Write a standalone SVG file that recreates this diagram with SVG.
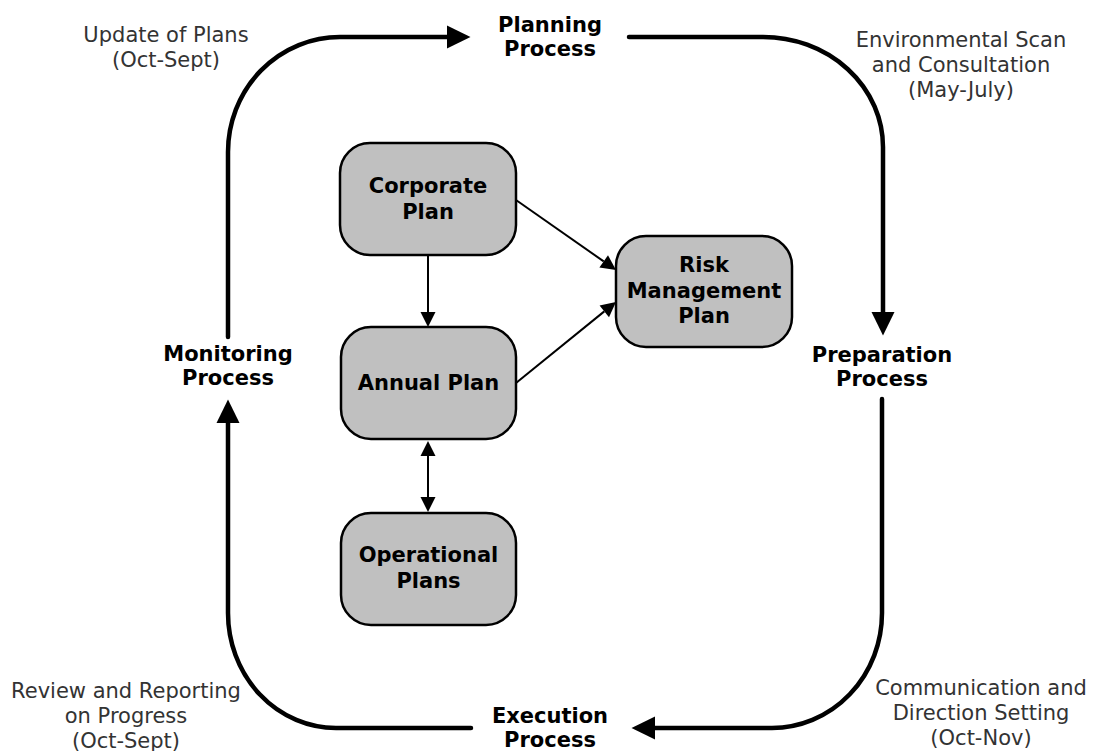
<svg xmlns="http://www.w3.org/2000/svg" width="1095" height="751" viewBox="0 0 1095 751">
  <style>
    .box { fill: #c0c0c0; stroke: #000; stroke-width: 2.5; }
    .boxtxt { font-family: "DejaVu Sans", Verdana, sans-serif; font-weight: bold; font-size: 21px; fill: #000; text-anchor: middle; }
    .stage { font-family: "DejaVu Sans", Verdana, sans-serif; font-weight: bold; font-size: 21px; fill: #000; text-anchor: middle; }
    .note { font-family: "DejaVu Sans", Verdana, sans-serif; font-size: 21px; fill: #333; text-anchor: middle; }
    .cycle { fill: none; stroke: #000; stroke-width: 4.5; stroke-linecap: round; marker-end: url(#bigHead); }
    .link { fill: none; stroke: #000; stroke-width: 2; marker-end: url(#smallHead); }
  </style>
  <defs>
    <marker id="bigHead" markerUnits="userSpaceOnUse" markerWidth="24" markerHeight="24" viewBox="0 -12 24 24" refX="0" refY="0" orient="auto" overflow="visible">
      <path d="M0,-11.5 L23.5,0 L0,11.5 z" fill="#000"/>
    </marker>
    <marker id="smallHead" markerUnits="userSpaceOnUse" markerWidth="16" markerHeight="16" viewBox="0 -8 16 16" refX="0" refY="0" orient="auto-start-reverse" overflow="visible">
      <path d="M0,-7.5 L15,0 L0,7.5 z" fill="#000"/>
    </marker>
  </defs>

  <rect width="1095" height="751" fill="#fff"/>

  <!-- planning cycle connectors and links between plans -->
  <g id="connectors">
    <path class="cycle" d="M228,337 V152 A112,115 0 0 1 340,37 H447"/>
    <path class="cycle" d="M629,37 H763 A120,110 0 0 1 883,147 V312"/>
    <path class="cycle" d="M882,399 V613 A110,115 0 0 1 772,728 H655"/>
    <path class="cycle" d="M471,728 H336 A108,115 0 0 1 228,613 V423"/>

    <path class="link" d="M428,255 V312"/>
    <path class="link" d="M516,200 L603.7,261.4"/>
    <path class="link" d="M516,383 L604.3,311.4"/>
    <path class="link" d="M428,456 V497" marker-start="url(#smallHead)"/>
  </g>

  <!-- cycle stages -->
  <g id="planning-process">
    <text class="stage" x="550" y="32">Planning</text>
    <text class="stage" x="550" y="56">Process</text>
  </g>
  <g id="preparation-process">
    <text class="stage" x="882" y="362">Preparation</text>
    <text class="stage" x="882" y="386">Process</text>
  </g>
  <g id="execution-process">
    <text class="stage" x="550" y="723">Execution</text>
    <text class="stage" x="550" y="747">Process</text>
  </g>
  <g id="monitoring-process">
    <text class="stage" x="228" y="361">Monitoring</text>
    <text class="stage" x="228" y="385">Process</text>
  </g>

  <!-- timing notes -->
  <g id="note-update">
    <text class="note" x="166" y="42">Update of Plans</text>
    <text class="note" x="166" y="67">(Oct-Sept)</text>
  </g>
  <g id="note-scan">
    <text class="note" x="961" y="47">Environmental Scan</text>
    <text class="note" x="961" y="72">and Consultation</text>
    <text class="note" x="961" y="97">(May-July)</text>
  </g>
  <g id="note-communication">
    <text class="note" x="981" y="695">Communication and</text>
    <text class="note" x="981" y="720">Direction Setting</text>
    <text class="note" x="981" y="745">(Oct-Nov)</text>
  </g>
  <g id="note-review">
    <text class="note" x="126" y="698">Review and Reporting</text>
    <text class="note" x="126" y="723">on Progress</text>
    <text class="note" x="126" y="748">(Oct-Sept)</text>
  </g>

  <!-- plan boxes -->
  <g id="corporate-plan">
    <rect class="box" x="340" y="143" width="176" height="112" rx="30"/>
    <text class="boxtxt" x="428" y="193">Corporate</text>
    <text class="boxtxt" x="428" y="219">Plan</text>
  </g>
  <g id="annual-plan">
    <rect class="box" x="341" y="327" width="175" height="112" rx="30"/>
    <text class="boxtxt" x="428.5" y="390">Annual Plan</text>
  </g>
  <g id="operational-plans">
    <rect class="box" x="341" y="513" width="175" height="112" rx="30"/>
    <text class="boxtxt" x="428.5" y="562">Operational</text>
    <text class="boxtxt" x="428.5" y="588">Plans</text>
  </g>
  <g id="risk-management-plan">
    <rect class="box" x="616" y="236" width="176" height="111" rx="30"/>
    <text class="boxtxt" x="704" y="272">Risk</text>
    <text class="boxtxt" x="704" y="298">Management</text>
    <text class="boxtxt" x="704" y="323">Plan</text>
  </g>
</svg>
